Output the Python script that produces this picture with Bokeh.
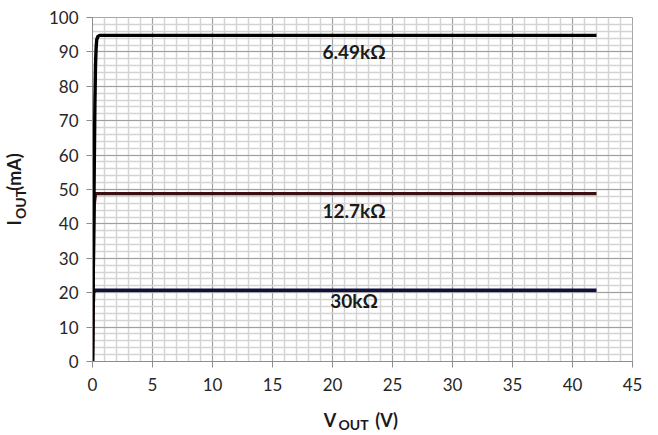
from bokeh.plotting import figure
from bokeh.models import Range1d, SingleIntervalTicker, FixedTicker, Label, LinearAxis
from bokeh.embed import file_html
from bokeh.resources import INLINE

# data
v_649 = [0, 0.05, 0.1, 0.2, 0.25, 0.3, 0.35, 0.45, 0.6, 42]
i_649 = [0, 20, 40, 75, 86, 91, 93.5, 94.5, 94.8, 94.8]
v_127 = [0, 0.05, 0.1, 0.15, 0.25, 42]
i_127 = [0, 20, 38, 46, 48.8, 48.8]
v_30 = [0, 0.05, 0.1, 0.2, 42]
i_30 = [0, 15, 20, 20.7, 20.7]
labels = ["6.49kΩ", "12.7kΩ", "30kΩ"]
label_x = [21.8, 21.8, 21.8]
label_y = [90.0, 43.9, 17.7]

# axis title pieces (main text / subscript), positioned along the axis in data units
xt_pos = [19.79, 24.5]
xt_txt = ["V", "(V)"]
xs_pos = [21.75]
xs_txt = ["OUT"]
yt_pos = [40.3, 55.1]
yt_txt = ["I", "(mA)"]
ys_pos = [45.8]
ys_txt = ["OUT"]

FONT = "Lato"
TXT = "#1a1a1a"

p = figure(width=656, height=435, output_backend="svg", toolbar_location=None,
           x_range=Range1d(0, 45), y_range=Range1d(0, 100))
p.min_border_left = 90
p.min_border_right = 24
p.min_border_top = 17
p.min_border_bottom = 74
p.background_fill_color = "white"
p.border_fill_color = "white"
p.outline_line_color = "#a6a6a6"

p.xaxis.ticker = SingleIntervalTicker(interval=5, num_minor_ticks=5)
p.yaxis.ticker = SingleIntervalTicker(interval=10, num_minor_ticks=5)
for ax in (p.xaxis, p.yaxis):
    ax.axis_line_color = "#8c8c8c"
    ax.major_tick_line_color = "#8c8c8c"
    ax.major_tick_out = 6
    ax.major_tick_in = 0
    ax.minor_tick_line_color = None
    ax.major_label_text_font = FONT
    ax.major_label_text_font_size = "17px"
    ax.major_label_text_color = "#262626"
p.xaxis.major_label_standoff = 10
p.yaxis.major_label_standoff = 8

for g in (p.xgrid, p.ygrid):
    g.grid_line_color = "#a0a0a0"
    g.grid_line_width = 1
    g.minor_grid_line_color = "#d4d4d4"
    g.minor_grid_line_width = 1.5

p.line(v_30, i_30, line_color="#10103c", line_width=3.4)
p.line(v_127, i_127, line_color="#3b1010", line_width=3.4)
p.line(v_649, i_649, line_color="#000000", line_width=3.4)

for t, x, y in zip(labels, label_x, label_y):
    p.add_layout(Label(x=x, y=y, text=t, text_align="center", text_baseline="middle",
                       text_font=FONT, text_font_style="bold", text_font_size="19px",
                       text_color=TXT))


def title_axis(pos, txt, size, standoff, orientation="horizontal"):
    ax = LinearAxis(ticker=FixedTicker(ticks=pos),
                    major_label_overrides={k: t for k, t in zip(pos, txt)})
    ax.axis_line_color = None
    ax.major_tick_line_color = None
    ax.minor_tick_line_color = None
    ax.major_tick_out = 0
    ax.major_tick_in = 0
    ax.major_label_standoff = standoff
    ax.major_label_text_font = FONT
    ax.major_label_text_font_style = "bold"
    ax.major_label_text_font_size = size
    ax.major_label_text_color = TXT
    ax.major_label_orientation = orientation
    return ax


p.add_layout(title_axis(xt_pos, xt_txt, "18px", 15), "below")
p.add_layout(title_axis(xs_pos, xs_txt, "14px", -18), "below")
p.add_layout(title_axis(ys_pos, ys_txt, "14px", 16, "vertical"), "left")
p.add_layout(title_axis(yt_pos, yt_txt, "18px", -16, "vertical"), "left")

open("out.html", "w").write(file_html(p, INLINE))
